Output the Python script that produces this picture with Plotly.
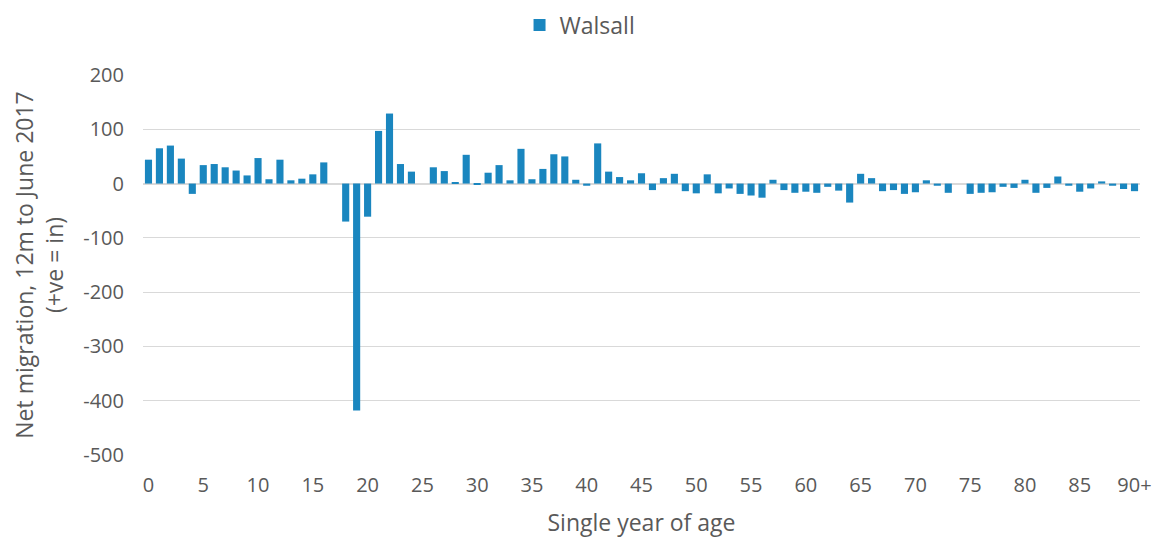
import plotly.graph_objects as go

ages = [str(i) for i in range(90)] + ["90+"]
net_migration = [
    44, 65, 70, 46, -19, 34, 36, 30, 24, 15,
    47, 8, 44, 6, 9, 17, 39, 0, -70, -418,
    -61, 97, 129, 36, 22, 0, 30, 23, 2, 53,
    -2, 20, 34, 6, 64, 8, 27, 54, 50, 7,
    -4, 74, 22, 12, 6, 19, -12, 10, 18, -14,
    -18, 17, -18, -9, -19, -22, -26, 7, -12, -17,
    -15, -17, -6, -13, -35, 18, 10, -14, -12, -19,
    -16, 6, -4, -17, 0, -19, -17, -16, -6, -8,
    7, -17, -8, 13, -4, -15, -9, 4, -4, -10,
    -14,
]
tick_labels = ["0", "5", "10", "15", "20", "25", "30", "35", "40", "45",
               "50", "55", "60", "65", "70", "75", "80", "85", "90+"]
y_ticks = [200, 100, 0, -100, -200, -300, -400, -500]
y_tick_text = ["200", "100", "0", "-100", "-200", "-300", "-400", "-500"]

font_family = "Open Sans, Segoe UI, sans-serif"
grey = "#595959"

fig = go.Figure()
fig.add_trace(go.Bar(
    x=ages, y=net_migration, name="Walsall",
    marker=dict(color="#1a86bf", line=dict(width=0)),
))

fig.update_layout(
    width=1154, height=530,
    margin=dict(l=135, r=22, t=67, b=83),
    plot_bgcolor="white", paper_bgcolor="white",
    font=dict(family=font_family, color=grey, size=20),
    bargap=0.35,
    showlegend=True,
    legend=dict(orientation="h", x=0.4957, xref="container", xanchor="center",
                y=0.968, yref="container", yanchor="middle",
                font=dict(size=23, color=grey), itemwidth=30),
    xaxis=dict(
        type="category", tickmode="array", tickvals=tick_labels, ticktext=tick_labels,
        showgrid=False, showline=False, ticks="", automargin=False,
        ticklabelstandoff=16,
        title=dict(text="Single year of age", font=dict(size=23, color=grey), standoff=28),
        tickfont=dict(size=20, color=grey),
    ),
    yaxis=dict(
        range=[-500, 200], tickvals=y_ticks, ticktext=y_tick_text,
        showgrid=True, gridcolor="#d9d9d9", gridwidth=1,
        zeroline=True, zerolinecolor="#d9d9d9", zerolinewidth=1.5,
        showline=False, ticks="", automargin=False,
        ticklabelstandoff=18,
        title=dict(text="Net migration, 12m to June 2017<br>(+ve = in)",
                   font=dict(size=23, color=grey), standoff=27),
        tickfont=dict(size=20, color=grey),
    ),
)

fig.write_html("out.html")
